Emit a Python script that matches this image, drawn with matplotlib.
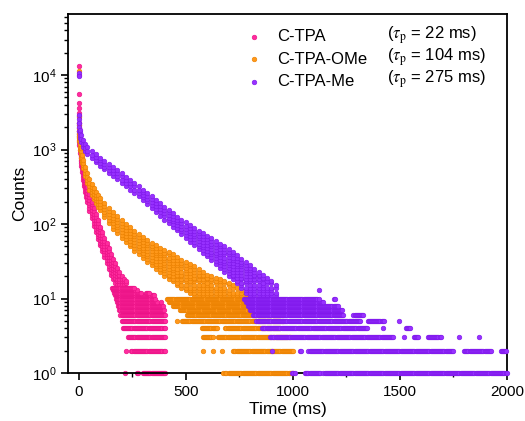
import numpy as np
import matplotlib
matplotlib.use('Agg')
import matplotlib.pyplot as plt
from matplotlib.ticker import MultipleLocator, LogLocator, FuncFormatter, NullFormatter
from matplotlib.colors import to_rgb

plt.rcParams['font.family'] = ['Liberation Sans', 'DejaVu Sans']
plt.rcParams['mathtext.fontset'] = 'stix'

# Phosphorescence decay of the three compounds
names = ['C-TPA', 'C-TPA-OMe', 'C-TPA-Me']
lifetimes = [22, 104, 275]   # ms
colors = ['#ff1493', '#ff8c00', '#8b1aff']

# counts recorded at t = 0 (excitation spike)
pk_spike = [13300, 9900, 5650, 4270, 3650, 3100, 2800]
or_spike = [11500, 2700]
pu_spike = [10700, 9600, 2900, 2600, 2250]

# decaying band: time (ms), lower and upper counts of the point cloud
pk_t = [0, 3, 6, 9, 12, 15, 20, 25, 30, 35, 40, 50, 60, 70, 80, 90, 100, 110,
        120, 130, 140, 150, 160, 170, 180, 190, 200, 210, 220]
pk_lo = [1500, 1150, 900, 720, 600, 500, 390, 320, 270, 230, 200, 150, 120, 95,
         77, 63, 52, 43, 36, 30, 25, 21, 18, 16, 14, 12, 11, 11, 11]
pk_hi = [2300, 1750, 1400, 1100, 900, 760, 590, 490, 420, 360, 315, 250, 200, 165,
         135, 112, 92, 77, 65, 55, 47, 40, 34, 30, 26, 23, 20, 18, 17]

or_t = [0, 5, 10, 15, 20, 30, 40, 50, 60, 70, 80, 90, 100, 120, 140, 160, 180,
        200, 220, 240, 260, 280, 300, 320, 340, 360, 380, 400, 420, 440, 460, 480,
        500, 520, 540, 560, 580, 600, 620, 640, 660, 680, 700, 720, 740, 760, 780]
or_lo = [1300, 1000, 780, 650, 560, 440, 350, 290, 245, 215, 190, 170, 152, 124,
         103, 87, 75, 65, 57, 50, 44, 39, 35, 31, 28, 25, 23, 20, 18, 17, 15, 14,
         13, 12, 11, 11, 11, 11, 11, 11, 11, 11, 11, 11, 11, 11, 11]
or_hi = [2300, 1450, 1050, 850, 730, 580, 480, 400, 345, 300, 270, 245, 222, 190,
         165, 145, 128, 113, 100, 90, 81, 73, 67, 61, 56, 52, 48, 45, 42, 39, 36, 33,
         31, 29, 27, 25, 23, 21, 20, 19, 18, 17, 16, 15, 14, 13, 12]

pu_t = [0, 5, 10, 20, 30, 40, 60, 80, 100, 120, 140, 160, 180, 200, 220, 240, 260,
        280, 300, 320, 340, 360, 380, 400, 420, 440, 460, 480, 500, 520, 540, 560,
        580, 600, 620, 640, 660, 680, 700, 720, 740, 760, 780, 800, 820, 840, 860,
        880, 900, 920]
pu_lo = [1800, 1450, 1250, 1080, 960, 870, 760, 670, 600, 540, 490, 440, 400, 360,
         320, 290, 260, 235, 210, 185, 165, 145, 130, 115, 103, 92, 82, 73, 65, 58,
         52, 46, 41, 37, 33, 29, 26, 23, 20, 18, 16, 14, 12, 11, 11, 11, 11, 11, 11, 11]
pu_hi = [2250, 1850, 1580, 1330, 1180, 1080, 960, 860, 780, 700, 640, 580, 530, 480,
         430, 395, 355, 320, 290, 260, 235, 210, 190, 170, 155, 140, 125, 112, 105, 96,
         88, 81, 75, 69, 64, 59, 54, 50, 46, 42, 38, 34, 31, 28, 25, 23, 21, 19, 17, 15]

# low count levels: count -> time ranges (ms) where points sit on that level
pk_runs = {
    1: [(215, 215), (270, 276), (300, 405)],
    2: [(223, 226), (246, 405)],
    3: [(230, 405)],
    4: [(206, 405)],
    5: [(200, 405)],
    6: [(195, 405)],
    7: [(190, 400)],
    8: [(185, 395)],
    9: [(180, 365), (384, 384)],
    10: [(175, 355)],
    11: [(170, 350)],
    12: [(165, 290), (314, 330)],
    13: [(160, 270)],
    14: [(155, 262)],
}
or_runs = {
    1: [(676, 690), (700, 1000)],
    2: [(580, 580), (628, 628), (670, 670), (722, 1002)],
    3: [(580, 628), (650, 990)],
    4: [(575, 645), (685, 940)],
    5: [(459, 459), (482, 955)],
    6: [(505, 940)],
    7: [(473, 920)],
    8: [(440, 900)],
    9: [(420, 880)],
    10: [(412, 860)],
}
pu_runs = {
    1: [(998, 1012), (1058, 1129), (1143, 2000)],
    2: [(903, 903), (1035, 1040), (1073, 1752), (1800, 1925), (1972, 2000)],
    3: [(894, 1471), (1518, 1518), (1564, 1588), (1630, 1691), (1775, 1775), (1869, 1869)],
    4: [(857, 1349), (1419, 1419), (1527, 1550)],
    5: [(830, 1316), (1349, 1424), (1494, 1494)],
    6: [(815, 1236), (1283, 1330)],
    7: [(800, 1232)],
    8: [(790, 1210)],
    9: [(780, 1143)],
    10: [(770, 1120), (1194, 1199)],
    13: [(1120, 1120)],
}

step = 5  # ms between recorded points


def collect(spike, t, lo, hi, runs):
    xs, ys = [], []
    for c in spike:
        xs.append(0)
        ys.append(c)
    for ti, a, b in zip(t, lo, hi):
        n = max(2, int(np.log10(b / a) / 0.035) + 1)
        cs = np.unique(np.round(np.geomspace(a, b, n)))
        xs += [ti] * len(cs)
        ys += list(cs)
    for level, segs in runs.items():
        for a, b in segs:
            ts = np.arange(a, b + 0.1, step)
            xs += list(ts)
            ys += [level] * len(ts)
    return np.array(xs), np.array(ys)


series = [
    collect(pk_spike, pk_t, pk_lo, pk_hi, pk_runs),
    collect(or_spike, or_t, or_lo, or_hi, or_runs),
    collect(pu_spike, pu_t, pu_lo, pu_hi, pu_runs),
]

fig = plt.figure(figsize=(5.25, 4.21), dpi=100)
ax = fig.add_axes([68 / 525, 1 - 373 / 421, 439 / 525, 359 / 421])

handles = []
for i, (x, y) in enumerate(series):
    col = np.array(to_rgb(colors[i]))
    face = col * 0.9 + 0.1
    h = ax.scatter(x, y, s=11, facecolors=[face], edgecolors=[col * 0.92], linewidths=0.45,
                   clip_on=False, zorder=2 + i)
    handles.append(h)

ax.set_yscale('log')
ax.set_ylim(1, 6.6e4)
ax.set_xlim(-50, 2000)

ax.xaxis.set_major_locator(MultipleLocator(500))
ax.xaxis.set_minor_locator(MultipleLocator(250))
ax.yaxis.set_major_locator(LogLocator(base=10))
ax.yaxis.set_minor_locator(LogLocator(base=10, subs=np.arange(2, 10)))
ax.yaxis.set_major_formatter(FuncFormatter(lambda v, p: r'$\mathregular{10^{%d}}$' % round(np.log10(v))))
ax.yaxis.set_minor_formatter(NullFormatter())

ax.tick_params(which='both', direction='out', top=False, right=False, labelsize=11)
ax.tick_params(which='major', length=5, width=1.2)
ax.tick_params(which='minor', length=3, width=1)
for sp in ax.spines.values():
    sp.set_linewidth(1.3)

ax.set_xlabel('Time (ms)', fontsize=12.5, labelpad=2)
ax.set_ylabel('Counts', fontsize=12.5, labelpad=3)

ax.legend(handles, names, loc='upper left', bbox_to_anchor=(0.405, 0.957),
          frameon=False, fontsize=12, handlelength=1.0, handletextpad=0.85,
          labelspacing=0.44, borderpad=0, borderaxespad=0, scatterpoints=1,
          markerscale=1.0)

for i, tau in enumerate(lifetimes):
    ax.text(0.727, 0.941 - i * 0.0613, r'($\tau_{\mathrm{p}}$ = %d ms)' % tau,
            transform=ax.transAxes, fontsize=12, va='center', ha='left')

fig.savefig('out.png', dpi=100)
